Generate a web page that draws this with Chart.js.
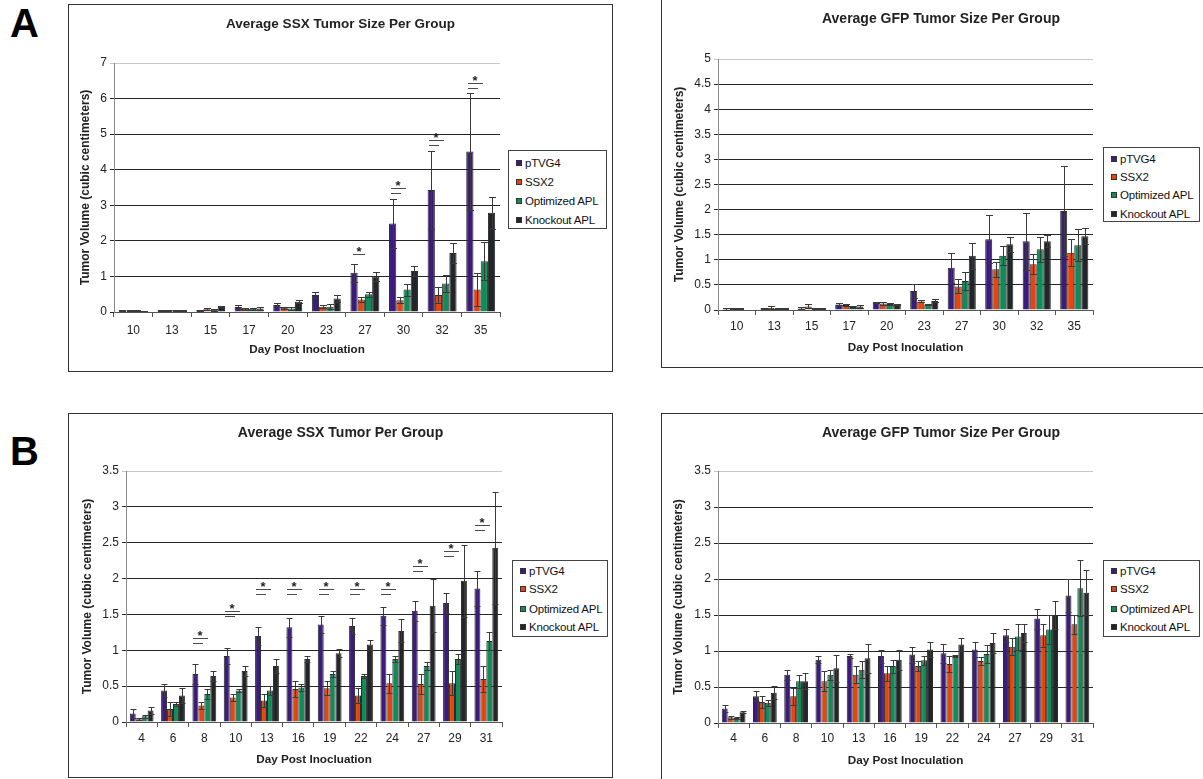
<!DOCTYPE html>
<html>
<head>
<meta charset="utf-8">
<script src="https://cdn.jsdelivr.net/npm/chart.js@4.4.0/dist/chart.umd.min.js"></script>
<style>
  body { margin: 0; background: #fff; width: 1203px; height: 779px; overflow: hidden; position: relative;
         font-family: "Liberation Sans", Arial, sans-serif; }
  canvas { position: absolute; }
  .frame { position: absolute; border: 1px solid #333; box-sizing: border-box; pointer-events: none; }
  .legend { position: absolute; border: 1px solid #444; background: #fff; box-sizing: border-box; font-size: 11.5px; color: #111; }
  .legend div { position: absolute; left: 7px; height: 14px; display: flex; align-items: center; white-space: nowrap; letter-spacing: -0.2px; }
  .legend span { display: inline-block; width: 6px; height: 6px; box-sizing: border-box; border: 1px solid #333; margin-right: 3px; }
  .letter { position: absolute; font-weight: bold; font-size: 40px; line-height: 40px; color: #000; }
</style>
</head>
<body>
<div class="letter" style="left:10px;top:3px">A</div>
<div class="letter" style="left:10px;top:431px">B</div>
<script>
Chart.defaults.font.family = '"Liberation Sans", Arial, sans-serif';

const groups = ['pTVG4', 'SSX2', 'Optimized APL', 'Knockout APL'];
const colors = ['#3b1c7a', '#e8450e', '#0f8c58', '#222629'];

// experiment A
const daysA = ['10', '13', '15', '17', '20', '23', '27', '30', '32', '35'];

const ssxA_pTVG4 = [0.04, 0.05, 0.05, 0.14, 0.20, 0.48, 1.10, 2.49, 3.43, 4.51];
const ssxA_SSX2  = [0.04, 0.05, 0.08, 0.09, 0.12, 0.15, 0.35, 0.33, 0.48, 0.63];
const ssxA_Opt   = [0.04, 0.05, 0.06, 0.09, 0.10, 0.15, 0.50, 0.63, 0.80, 1.43];
const ssxA_KO    = [0.03, 0.05, 0.15, 0.10, 0.29, 0.38, 1.00, 1.15, 1.66, 2.79];
const ssxA_pTVG4Err = [0.01, 0.01, 0.02, 0.05, 0.05, 0.09, 0.26, 0.70, 1.11, 1.65];
const ssxA_SSX2Err  = [0.01, 0.01, 0.03, 0.03, 0.03, 0.04, 0.07, 0.09, 0.22, 0.47];
const ssxA_OptErr   = [0.01, 0.01, 0.02, 0.03, 0.03, 0.07, 0.07, 0.17, 0.24, 0.54];
const ssxA_KOErr    = [0.01, 0.01, 0.02, 0.04, 0.05, 0.10, 0.13, 0.14, 0.27, 0.45];
const ssxA_sigDays  = [6, 7, 8, 9];
const ssxA_sigLevel = [1.62, 3.35, 4.69, 6.31];
const ssxA_sigLines = [1, 2, 2, 2];

const gfpA_pTVG4 = [0.02, 0.03, 0.03, 0.11, 0.14, 0.38, 0.84, 1.41, 1.37, 1.97];
const gfpA_SSX2  = [0.02, 0.04, 0.07, 0.10, 0.13, 0.17, 0.47, 0.81, 0.91, 1.14];
const gfpA_Opt   = [0.02, 0.03, 0.03, 0.06, 0.12, 0.11, 0.58, 1.08, 1.21, 1.29];
const gfpA_KO    = [0.00, 0.03, 0.03, 0.07, 0.11, 0.18, 1.08, 1.31, 1.37, 1.47];
const gfpA_pTVG4Err = [0.02, 0.01, 0.02, 0.02, 0.01, 0.14, 0.30, 0.48, 0.57, 0.90];
const gfpA_SSX2Err  = [0.01, 0.03, 0.04, 0.02, 0.03, 0.02, 0.14, 0.15, 0.20, 0.27];
const gfpA_OptErr   = [0.01, 0.01, 0.01, 0.02, 0.02, 0.01, 0.18, 0.19, 0.25, 0.32];
const gfpA_KOErr    = [0.00, 0.01, 0.01, 0.03, 0.01, 0.03, 0.26, 0.15, 0.12, 0.16];

// experiment B
const daysB = ['4', '6', '8', '10', '13', '16', '19', '22', '24', '27', '29', '31'];

const ssxB_pTVG4 = [0.12, 0.44, 0.67, 0.92, 1.20, 1.32, 1.36, 1.34, 1.48, 1.55, 1.66, 1.86];
const ssxB_SSX2  = [0.04, 0.18, 0.23, 0.34, 0.30, 0.46, 0.47, 0.37, 0.54, 0.53, 0.54, 0.60];
const ssxB_Opt   = [0.08, 0.25, 0.39, 0.44, 0.44, 0.48, 0.67, 0.64, 0.88, 0.78, 0.88, 1.13];
const ssxB_KO    = [0.16, 0.37, 0.64, 0.71, 0.78, 0.88, 0.96, 1.08, 1.27, 1.62, 1.97, 2.43];
const ssxB_pTVG4Err = [0.06, 0.09, 0.14, 0.11, 0.12, 0.13, 0.12, 0.11, 0.13, 0.14, 0.14, 0.24];
const ssxB_SSX2Err  = [0.01, 0.10, 0.05, 0.05, 0.09, 0.11, 0.10, 0.11, 0.13, 0.14, 0.17, 0.18];
const ssxB_OptErr   = [0.02, 0.03, 0.07, 0.02, 0.06, 0.05, 0.04, 0.03, 0.04, 0.05, 0.07, 0.13];
const ssxB_KOErr    = [0.05, 0.11, 0.07, 0.07, 0.10, 0.04, 0.06, 0.07, 0.16, 0.37, 0.50, 0.78];
const ssxB_sigDays  = [2, 3, 4, 5, 6, 7, 8, 9, 10, 11];
const ssxB_sigLevel = [1.10, 1.48, 1.78, 1.78, 1.78, 1.78, 1.78, 2.10, 2.31, 2.68];
const ssxB_sigLines = [2, 2, 2, 2, 2, 2, 2, 2, 2, 2];

const gfpB_pTVG4 = [0.20, 0.37, 0.67, 0.88, 0.93, 0.93, 0.95, 0.97, 1.02, 1.22, 1.45, 1.77];
const gfpB_SSX2  = [0.08, 0.29, 0.37, 0.58, 0.67, 0.69, 0.79, 0.82, 0.86, 1.06, 1.22, 1.37];
const gfpB_Opt   = [0.07, 0.28, 0.58, 0.67, 0.74, 0.79, 0.87, 0.93, 0.96, 1.20, 1.30, 1.87];
const gfpB_KO    = [0.15, 0.42, 0.58, 0.76, 0.90, 0.88, 1.02, 1.09, 1.11, 1.25, 1.50, 1.81];
const gfpB_pTVG4Err = [0.05, 0.07, 0.07, 0.05, 0.03, 0.09, 0.11, 0.13, 0.10, 0.09, 0.14, 0.23];
const gfpB_SSX2Err  = [0.02, 0.08, 0.12, 0.14, 0.12, 0.10, 0.07, 0.11, 0.06, 0.12, 0.16, 0.13];
const gfpB_OptErr   = [0.02, 0.04, 0.09, 0.07, 0.12, 0.09, 0.06, 0.02, 0.12, 0.18, 0.20, 0.39];
const gfpB_KOErr    = [0.01, 0.09, 0.11, 0.19, 0.20, 0.14, 0.11, 0.09, 0.14, 0.13, 0.20, 0.31];

// symmetric error bars with caps, drawn over the bars
const errorBars = {
  id: 'errorBars',
  afterDatasetsDraw(chart) {
    const ctx = chart.ctx, y = chart.scales.y;
    ctx.save();
    ctx.strokeStyle = '#3a3a3a';
    ctx.lineWidth = 1;
    chart.data.datasets.forEach((ds, i) => {
      chart.getDatasetMeta(i).data.forEach((bar, j) => {
        const v = ds.data[j], e = ds.errors[j];
        if (!e) return;
        const x = Math.round(bar.x) + 0.5;
        const top = Math.round(y.getPixelForValue(v + e)) + 0.5;
        const bot = Math.round(y.getPixelForValue(Math.max(0, v - e))) + 0.5;
        const half = Math.min(3.5, bar.width / 2);
        ctx.beginPath();
        ctx.moveTo(x, top); ctx.lineTo(x, bot);
        ctx.moveTo(x - half, top); ctx.lineTo(x + half, top);
        ctx.moveTo(x - half, bot); ctx.lineTo(x + half, bot);
        ctx.stroke();
      });
    });
    ctx.restore();
  }
};

// significance marks: short lines with an asterisk above the pTVG4 bar
const sigMarks = {
  id: 'sigMarks',
  afterDatasetsDraw(chart, args, opts) {
    if (!opts.days) return;
    const ctx = chart.ctx, y = chart.scales.y;
    const first = chart.getDatasetMeta(0).data;
    ctx.save();
    ctx.strokeStyle = '#4a4a4a';
    ctx.fillStyle = '#222';
    ctx.lineWidth = 1;
    ctx.font = 'bold 13px "Liberation Sans", Arial, sans-serif';
    ctx.textAlign = 'center';
    ctx.textBaseline = 'alphabetic';
    opts.days.forEach((k, n) => {
      const x = Math.round(first[k].x);
      let ly = Math.round(y.getPixelForValue(opts.level[n])) + 0.5;
      ctx.beginPath();
      if (opts.lines[n] === 1) {
        ctx.moveTo(x - 1, ly); ctx.lineTo(x + 11, ly);
      } else {
        ctx.moveTo(x - 2, ly); ctx.lineTo(x + 8, ly);
        ly -= 5;
        ctx.moveTo(x - 2, ly); ctx.lineTo(x + 13, ly);
      }
      ctx.stroke();
      ctx.fillText('*', x + 5, ly - 6 + 7.5);
    });
    ctx.restore();
  }
};

function addLegend(x, y, w, h, rows) {
  const box = document.createElement('div');
  box.className = 'legend';
  Object.assign(box.style, { left: x + 'px', top: y + 'px', width: w + 'px', height: h + 'px' });
  groups.forEach((g, i) => {
    const row = document.createElement('div');
    row.style.top = (rows[i] - 7) + 'px';
    row.innerHTML = '<span style="background:' + colors[i] + '"></span>' + g;
    box.appendChild(row);
  });
  document.body.appendChild(box);
}

function drawPanel(p) {
  const cv = document.createElement('canvas');
  cv.width = p.w; cv.height = p.h;
  cv.style.left = p.x + 'px'; cv.style.top = p.y + 'px';
  document.body.appendChild(cv);

  const frame = document.createElement('div');
  frame.className = 'frame';
  Object.assign(frame.style, { left: p.x + 'px', top: p.y + 'px', width: p.w + 'px', height: p.h + 'px' });
  document.body.appendChild(frame);

  const a = p.area;   // plot area inside the canvas
  const xAxisH = 50;
  const tf = p.titleSize;

  new Chart(cv, {
    type: 'bar',
    data: {
      labels: p.labels,
      datasets: groups.map((g, i) => ({
        label: g,
        data: p.values[i],
        errors: p.errors[i],
        backgroundColor: colors[i],
        borderColor: '#2b2b2b',
        borderWidth: 1,
        categoryPercentage: p.catPct,
        barPercentage: 1
      }))
    },
    options: {
      responsive: false,
      animation: false,
      devicePixelRatio: 1,
      layout: { padding: { left: 0, top: 0, right: 0, bottom: p.h - a.bottom - xAxisH } },
      plugins: {
        legend: { display: false },
        tooltip: { enabled: false },
        title: {
          display: true,
          text: p.title,
          color: '#222',
          font: { size: tf, weight: 'bold' },
          padding: { top: p.titleY - tf * 0.6, bottom: a.top - p.titleY - tf * 0.6 }
        },
        sigMarks: p.sig || {}
      },
      scales: {
        x: {
          grid: { drawOnChartArea: false, drawTicks: true, tickLength: 5, color: '#555', offset: true },
          border: { color: '#555' },
          ticks: { color: '#222', font: { size: 12 }, padding: p.labelGap - 12.2, maxRotation: 0, autoSkip: false },
          title: { display: true, text: p.xTitle, color: '#222', font: { size: 11.7, weight: 'bold' },
                   padding: { top: 0, bottom: xAxisH - 37.5 - 7 } },
          afterFit: s => { s.height = xAxisH; }
        },
        y: {
          min: 0, max: p.max,
          ticks: { stepSize: p.step, color: '#222', font: { size: 12 }, padding: 3,
                   callback: v => String(Math.round(v * 10) / 10) },
          grid: { color: c => (c.tick && c.tick.value === p.max) ? '#c8c8c8' : '#262626', tickLength: 4, lineWidth: 1 },
          border: { color: '#888' },
          title: { display: true, text: 'Tumor Volume (cubic centimeters)', color: '#222',
                   font: { size: 12, weight: 'bold' }, padding: { top: p.yTitleX - 7.2, bottom: 0 } },
          afterFit: s => { s.width = a.left; }
        },
        // empty right-hand box keeps room for the legend so the title stays centred on the frame
        side: {
          type: 'linear', position: 'right', display: true,
          ticks: { display: false }, grid: { display: false }, border: { display: false },
          afterFit: s => { s.width = p.w - a.right; }
        }
      }
    },
    plugins: [errorBars, sigMarks]
  });
}

drawPanel({
  x: 68, y: 4, w: 545, h: 368,
  area: { left: 46, top: 59, right: 432, bottom: 308 },
  title: 'Average SSX Tumor Size Per Group', titleSize: 13.5, titleY: 20, yTitleX: 18, labelGap: 19,
  xTitle: 'Day Post Inocluation', labels: daysA, max: 7, step: 1, catPct: 0.75,
  values: [ssxA_pTVG4, ssxA_SSX2, ssxA_Opt, ssxA_KO],
  errors: [ssxA_pTVG4Err, ssxA_SSX2Err, ssxA_OptErr, ssxA_KOErr],
  sig: { days: ssxA_sigDays, level: ssxA_sigLevel, lines: ssxA_sigLines }
});
addLegend(508, 150, 99, 79, [12, 31, 50, 69]);

drawPanel({
  x: 661, y: -3, w: 560, h: 371,
  area: { left: 57, top: 62, right: 432, bottom: 313 },
  title: 'Average GFP Tumor Size Per Group', titleSize: 14, titleY: 22, yTitleX: 19, labelGap: 17,
  xTitle: 'Day Post Inoculation', labels: daysA, max: 5, step: 0.5, catPct: 0.75,
  values: [gfpA_pTVG4, gfpA_SSX2, gfpA_Opt, gfpA_KO],
  errors: [gfpA_pTVG4Err, gfpA_SSX2Err, gfpA_OptErr, gfpA_KOErr]
});
addLegend(1103, 147, 97, 75, [11, 29, 47, 66]);

drawPanel({
  x: 68, y: 413, w: 545, h: 365,
  area: { left: 58, top: 58, right: 434, bottom: 309 },
  title: 'Average SSX Tumor Per Group', titleSize: 14, titleY: 20, yTitleX: 20, labelGap: 17,
  xTitle: 'Day Post Inocluation', labels: daysB, max: 3.5, step: 0.5, catPct: 0.76,
  values: [ssxB_pTVG4, ssxB_SSX2, ssxB_Opt, ssxB_KO],
  errors: [ssxB_pTVG4Err, ssxB_SSX2Err, ssxB_OptErr, ssxB_KOErr],
  sig: { days: ssxB_sigDays, level: ssxB_sigLevel, lines: ssxB_sigLines }
});
addLegend(512, 560, 96, 77, [10, 28, 48, 66]);

drawPanel({
  x: 661, y: 413, w: 560, h: 380,
  area: { left: 57, top: 58, right: 432, bottom: 310 },
  title: 'Average GFP Tumor Size Per Group', titleSize: 14, titleY: 20, yTitleX: 18, labelGap: 16,
  xTitle: 'Day Post Inoculation', labels: daysB, max: 3.5, step: 0.5, catPct: 0.76,
  values: [gfpB_pTVG4, gfpB_SSX2, gfpB_Opt, gfpB_KO],
  errors: [gfpB_pTVG4Err, gfpB_SSX2Err, gfpB_OptErr, gfpB_KOErr]
});
addLegend(1103, 560, 97, 77, [10, 28, 48, 66]);
</script>
</body>
</html>
